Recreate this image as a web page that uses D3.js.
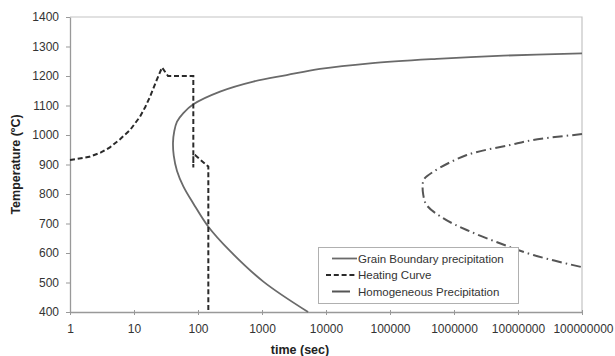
<!DOCTYPE html>
<html>
<head>
<meta charset="utf-8">
<script src="https://cdn.jsdelivr.net/npm/d3@7"></script>
<style>
  body { margin: 0; background: #fff; }
  svg { display: block; font-family: "Liberation Sans", Arial, sans-serif; }
</style>
</head>
<body>
<svg id="chart" width="615" height="356"></svg>
<script>
// ---- data (time in seconds, temperature in °C) ----
const xTicks = [1, 10, 100, 1000, 10000, 100000, 1000000, 10000000, 100000000];
const yTicks = [400, 500, 600, 700, 800, 900, 1000, 1100, 1200, 1300, 1400];

const grainBoundary = [
  [5250, 400], [1050, 503], [316, 607], [145, 689], [84.5, 768], [59, 826],
  [47, 878], [41.8, 930], [40.7, 975], [42.5, 1012], [47, 1045], [59, 1074],
  [84.5, 1104], [221, 1147], [731, 1181], [2430, 1203], [8060, 1224],
  [48700, 1243], [537000, 1258], [5890000, 1269], [100000000, 1277]
];

const heatingCurve = [
  [1, 915], [2, 926], [3, 940], [4.2, 958], [6, 985], [8.7, 1017], [12.4, 1062],
  [15, 1095], [17.8, 1130], [22.6, 1186], [27.4, 1229], [34, 1200], [84.5, 1200],
  [84.5, 890], [84.5, 932], [89.8, 932], [145, 893], [145, 400]
];

const homogeneous = [
  [100000000, 1003], [17000000, 983], [7500000, 966], [1580000, 932],
  [479000, 876], [340000, 850], [324000, 830], [331000, 797], [372000, 763],
  [676000, 718], [1580000, 678], [5200000, 633], [17400000, 593], [100000000, 552]
];

const seriesNames = ["Grain Boundary precipitation", "Heating Curve", "Homogeneous Precipitation"];

// ---- layout ----
const svg = d3.select("#chart");
const mLeft = 70, mRight = 582, mTop = 17, mBottom = 312;

const x = d3.scaleLog().domain([1, 100000000]).range([mLeft, mRight]);
const y = d3.scaleLinear().domain([400, 1400]).range([mBottom, mTop]);

// plot border (top/right)
svg.append("path")
  .attr("d", `M${mLeft},${mTop}H${mRight}V${mBottom}`)
  .attr("fill", "none").attr("stroke", "#c4c4c4").attr("stroke-width", 1.2);

// axes
const xAxis = svg.append("g").attr("transform", `translate(0,${mBottom})`)
  .call(d3.axisBottom(x).tickValues(xTicks).tickFormat(d3.format("d")).tickSizeInner(3).tickSizeOuter(0).tickPadding(9));
const yAxis = svg.append("g").attr("transform", `translate(${mLeft},0)`)
  .call(d3.axisLeft(y).tickValues(yTicks).tickFormat(d3.format("d")).tickSizeInner(4).tickSizeOuter(0).tickPadding(7));

[xAxis, yAxis].forEach(g => {
  g.select(".domain").attr("stroke", "#999").attr("stroke-width", 1.3);
  g.selectAll(".tick line").attr("stroke", "#999");
  g.selectAll(".tick text").attr("fill", "#333").style("font-size", "12px").attr("font-family", "'Liberation Sans', Arial, sans-serif");
});
xAxis.selectAll(".tick line").attr("y1", -2);
// last x label kept inside the frame
xAxis.selectAll(".tick text").filter(d => d === 100000000).attr("text-anchor", "end").attr("dx", 31);

// axis titles
svg.append("text").attr("x", 300).attr("y", 354).attr("text-anchor", "middle")
  .style("font-size", "12.5px").style("font-weight", "bold").attr("fill", "#222").text("time (sec)");
svg.append("text").attr("transform", `translate(20,${(mTop + mBottom) / 2}) rotate(-90)`).attr("text-anchor", "middle")
  .style("font-size", "12.5px").style("font-weight", "bold").attr("fill", "#222").text("Temperature (ºC)");

// lines
const lineSmooth = d3.line().x(d => x(d[0])).y(d => y(d[1])).curve(d3.curveCatmullRom.alpha(0.5));
const lineStraight = d3.line().x(d => x(d[0])).y(d => y(d[1]));

svg.append("path").datum(grainBoundary).attr("d", lineSmooth)
  .attr("fill", "none").attr("stroke", "#6a6a6a").attr("stroke-width", 1.8);

svg.append("path").datum(homogeneous).attr("d", lineSmooth)
  .attr("fill", "none").attr("stroke", "#555").attr("stroke-width", 2)
  .attr("stroke-dasharray", "10,4,1.5,4");

svg.append("path").datum(heatingCurve).attr("d", lineStraight)
  .attr("fill", "none").attr("stroke", "#2a2a2a").attr("stroke-width", 2)
  .attr("stroke-dasharray", "5,2.8");

// legend
const lg = svg.append("g");
lg.append("rect").attr("x", 318.5).attr("y", 247.5).attr("width", 200).attr("height", 56)
  .attr("fill", "#fff").attr("stroke", "#b0b0b0").attr("stroke-width", 1);
const legendStyles = [
  { x1: 332, x2: 357, color: "#6a6a6a", w: 1.8, dash: null },
  { x1: 326, x2: 357, color: "#2a2a2a", w: 2, dash: "5,2.8" },
  { x1: 332, x2: 350, color: "#555", w: 2, dash: null }
];
const legendY = [258.5, 275, 291.5];
seriesNames.forEach((name, i) => {
  const s = legendStyles[i];
  const ln = lg.append("line").attr("x1", s.x1).attr("x2", s.x2).attr("y1", legendY[i]).attr("y2", legendY[i])
    .attr("stroke", s.color).attr("stroke-width", s.w);
  if (s.dash) ln.attr("stroke-dasharray", s.dash);
  lg.append("text").attr("x", 358).attr("y", legendY[i] + 4).style("font-size", "11.5px")
    .attr("fill", "#333").text(name);
});
</script>
</body>
</html>
